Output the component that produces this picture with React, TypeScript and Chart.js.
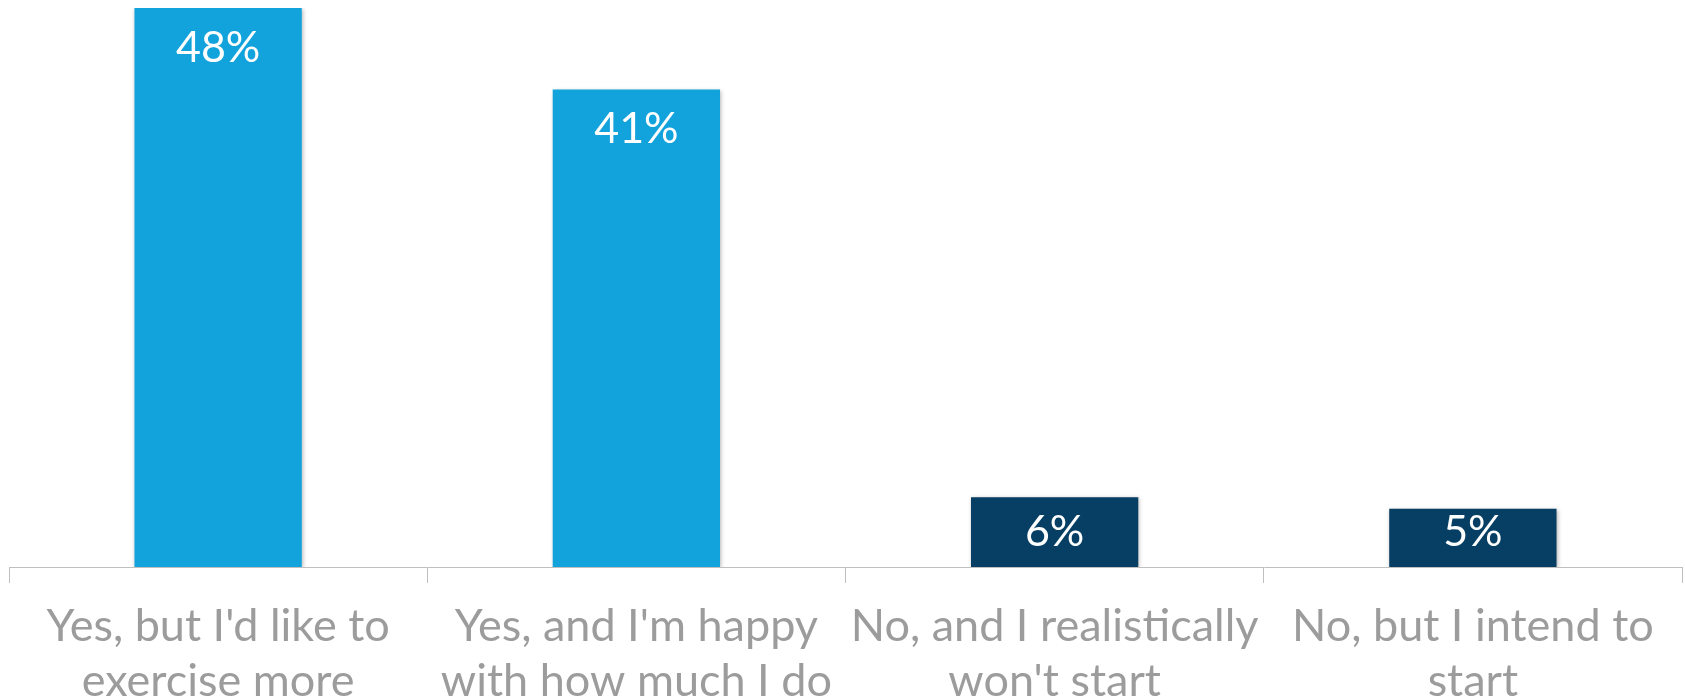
import React, { useEffect, useRef } from "react";
import { Chart, registerables } from "chart.js";

Chart.register(...registerables);

const categories: string[][] = [
  ["Yes, but I'd like to", "exercise more"],
  ["Yes, and I'm happy", "with how much I do"],
  ["No, and I realistically", "won't start"],
  ["No, but I intend to", "start"],
];
const values: number[] = [48, 41, 6, 5];
const barColors: string[] = ["#12A3DC", "#12A3DC", "#063F63", "#063F63"];

const FONT = "Lato, 'Open Sans', sans-serif";

const shadowPlugin = {
  id: "barShadow",
  beforeDatasetsDraw(chart: any) {
    const ctx = chart.ctx;
    ctx.save();
    ctx.shadowColor = "rgba(0,0,0,0.28)";
    ctx.shadowBlur = 4;
    ctx.shadowOffsetX = 1;
    ctx.shadowOffsetY = 1;
  },
  afterDatasetsDraw(chart: any) {
    chart.ctx.restore();
  },
};

const labelPlugin = {
  id: "valueLabels",
  afterDraw(chart: any) {
    const ctx = chart.ctx;
    const meta = chart.getDatasetMeta(0);
    ctx.save();
    ctx.fillStyle = "#ffffff";
    ctx.font = `43px ${FONT}`;
    ctx.textAlign = "center";
    ctx.textBaseline = "middle";
    meta.data.forEach((bar: any, i: number) => {
      const top = bar.y;
      const bottom = bar.base;
      const y = Math.min(top + 40, bottom - 35);
      ctx.fillText(`${values[i]}%`, bar.x, y);
    });
    ctx.restore();
  },
};

export default function App() {
  const ref = useRef<HTMLCanvasElement | null>(null);
  useEffect(() => {
    if (!ref.current) return;
    const chart = new Chart(ref.current, {
      type: "bar",
      data: {
        labels: categories,
        datasets: [
          {
            data: values,
            backgroundColor: barColors,
            barPercentage: 0.4,
            categoryPercentage: 1,
            borderWidth: 0,
          },
        ],
      },
      options: {
        animation: false,
        responsive: false,
        maintainAspectRatio: false,
        layout: { padding: { left: 9, right: 3, top: 8, bottom: 0 } },
        plugins: { legend: { display: false }, tooltip: { enabled: false } },
        scales: {
          x: {
            afterFit: (scale: any) => {
              scale.height = 130;
            },
            grid: {
              display: true,
              offset: true,
              drawOnChartArea: false,
              drawTicks: true,
              tickLength: 16,
              color: "#bfbfbf",
              lineWidth: 1,
            },
            border: { display: true, color: "#bfbfbf", width: 1 },
            ticks: {
              color: "#9c9c9c",
              font: { family: FONT, size: 45, lineHeight: 1.22 },
              padding: 16,
              maxRotation: 0,
              autoSkip: false,
            },
          },
          y: {
            display: false,
            min: 0,
            max: 48,
          },
        },
      },
      plugins: [shadowPlugin, labelPlugin],
    });
    return () => chart.destroy();
  }, []);
  return (
    <div style={{ position: "fixed", left: 0, top: 0, width: 1685, height: 697, background: "#fff" }}>
      <canvas ref={ref} width={1685} height={697} style={{ width: 1685, height: 697, display: "block" }} />
    </div>
  );
}
